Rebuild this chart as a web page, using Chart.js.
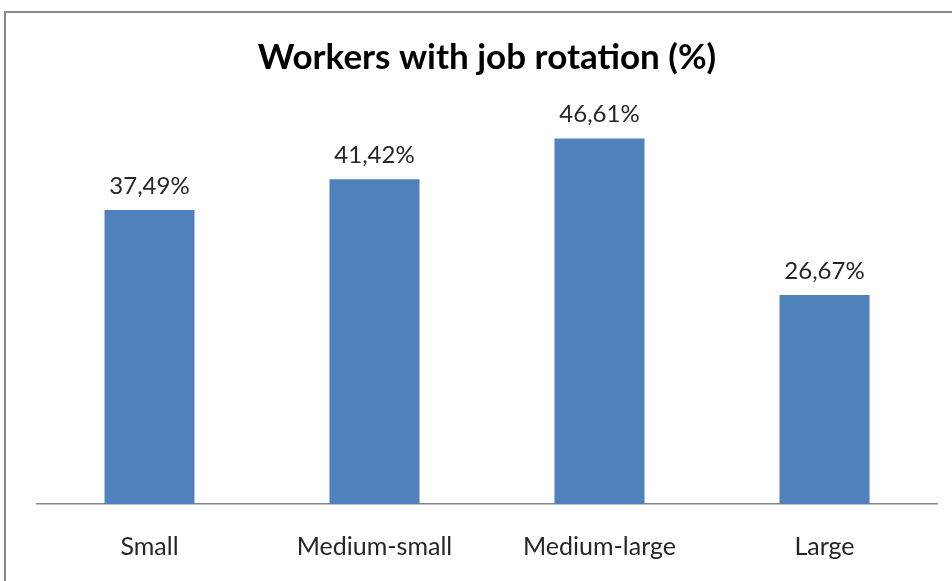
<!DOCTYPE html>
<html>
<head>
<meta charset="utf-8">
<script src="https://cdn.jsdelivr.net/npm/chart.js@4"></script>
<style>
  html, body { margin: 0; padding: 0; background: #fff; }
  #wrap { width: 952px; height: 581px; position: relative; }
</style>
</head>
<body>
<div id="wrap"><canvas id="rotationChart" width="952" height="581"></canvas></div>
<script>
const categories = ['Small', 'Medium-small', 'Medium-large', 'Large'];
const rotationShare = [37.49, 41.42, 46.61, 26.67];
const yMax = 50;

const FONT = "Lato, 'Liberation Sans', sans-serif";

// frame around the whole chart (top and left edges are visible)
const framePlugin = {
    id: 'frame',
    beforeDraw(chart) {
        const c = chart.ctx;
        c.save();
        c.fillStyle = '#fff';
        c.fillRect(0, 0, chart.width, chart.height);
        c.strokeStyle = '#888888';
        c.lineWidth = 2;
        c.strokeRect(5, 12, chart.width + 20, chart.height + 20);
        c.restore();
    }
};

// value labels above each bar, comma as decimal separator
const valueLabels = {
    id: 'valueLabels',
    afterDatasetsDraw(chart) {
        const c = chart.ctx;
        const meta = chart.getDatasetMeta(0);
        c.save();
        c.font = '24px ' + FONT;
        c.fillStyle = '#262626';
        c.textAlign = 'center';
        c.textBaseline = 'middle';
        meta.data.forEach((bar, i) => {
            const txt = rotationShare[i].toFixed(2).replace('.', ',') + '%';
            c.fillText(txt, bar.x, bar.y - 24);
        });
        c.restore();
    }
};

new Chart(document.getElementById('rotationChart').getContext('2d'), {
    type: 'bar',
    data: {
        labels: categories,
        datasets: [{
            data: rotationShare,
            backgroundColor: '#4F81BD',
            borderWidth: 0,
            categoryPercentage: 1.0,
            barPercentage: 0.4
        }]
    },
    options: {
        responsive: false,
        animation: false,
        layout: {
            padding: { left: 37, right: 15, top: 0, bottom: -9 }
        },
        plugins: {
            legend: { display: false },
            tooltip: { enabled: false },
            title: {
                display: true,
                text: 'Workers with job rotation (%)',
                color: '#000',
                font: { family: FONT, size: 35, weight: 'bold', lineHeight: 1.2 },
                padding: { top: 37, bottom: 33 }
            }
        },
        scales: {
            x: {
                grid: { display: false, drawTicks: false },
                border: { display: true, color: '#868686', width: 1.5 },
                ticks: {
                    color: '#262626',
                    padding: 28,
                    font: { family: FONT, size: 25 }
                }
            },
            y: {
                display: false,
                min: 0,
                max: yMax
            }
        }
    },
    plugins: [framePlugin, valueLabels]
});
</script>
</body>
</html>
